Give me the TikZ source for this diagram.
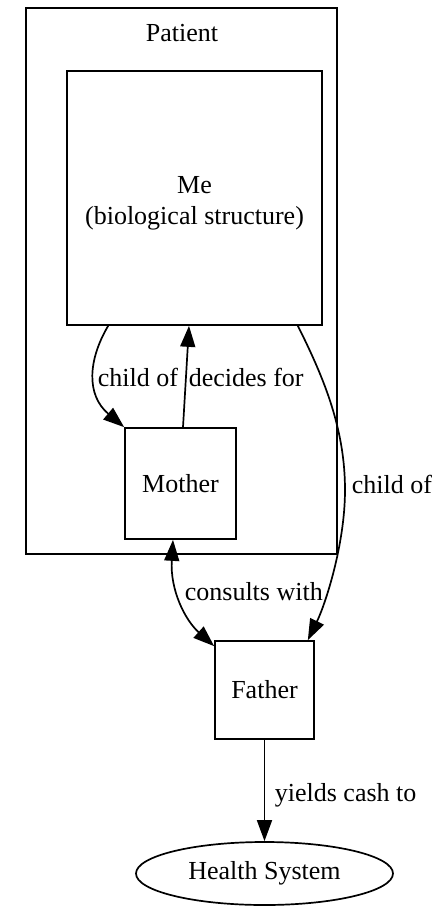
\documentclass[tikz,border=0pt]{standalone}
\usepackage{fontspec}
\setmainfont{Liberation Serif}
\usetikzlibrary{arrows.meta,shapes.geometric,calc}
\begin{document}
\begin{tikzpicture}[x=1pt,y=-1pt,
  font=\fontsize{26}{31}\selectfont,
  line width=1.7pt,
  box/.style={draw,rectangle,inner sep=0pt,align=center},
  lbl/.style={anchor=base west,inner sep=0pt},
  edge/.style={-{Triangle[length=21pt,width=15pt]}},
  biedge/.style={{Triangle[length=21pt,width=15pt]}-{Triangle[length=21pt,width=15pt]}}]
\useasboundingbox (0,0) rectangle (444,907);
% cluster
\node[draw,rectangle,inner sep=0pt,minimum width=311pt,minimum height=546pt] (patient) at (181.5,281) {};
\node[anchor=base,inner sep=0pt] (patientlbl) at (182,42) {Patient};
% nodes
\node[box,minimum width=255pt,minimum height=254pt,
  label={[align=center,yshift=-5pt]center:Me\\(biological structure)}] (me) at (194.5,198) {};
\node[box,minimum width=111pt,minimum height=111pt] (mother) at (180.5,483.5) {Mother};
\node[box,minimum width=99pt,minimum height=98pt] (father) at (264.5,690) {Father};
\node[draw,ellipse,inner sep=0pt,minimum width=257pt,minimum height=63pt] (health) at (264.5,873.5) {Health System};
% edges
\draw[edge] ($(me.south west)+(42,0)$) .. controls (88,360) and (86,395) .. (mother.north west);
\draw[edge] ($(mother.north)+(2.5,0)$) -- ($(me.south)+(-5.5,0)$);
\draw[edge] ($(me.south east)+(-25,0)$) .. controls (325,380) and (345,430) .. (345,490)
   .. controls (345,545) and (325,605) .. ($(father.north east)+(-7,0)$);
\draw[biedge] ($(mother.south)+(-7.5,0)$) .. controls (170,590) and (185,620) .. ($(father.north west)+(0,6)$);
\draw[edge] (father.south) -- (health.north);
% labels
\node[lbl] (l1) at (97,386) {child of};
\node[lbl] (l2) at (188,386) {decides for};
\node[lbl] (l3) at (351,493) {child of};
\node[lbl] (l4) at (184,600) {consults with};
\node[lbl] (l5) at (274,801) {yields cash to};
\end{tikzpicture}
\end{document}
